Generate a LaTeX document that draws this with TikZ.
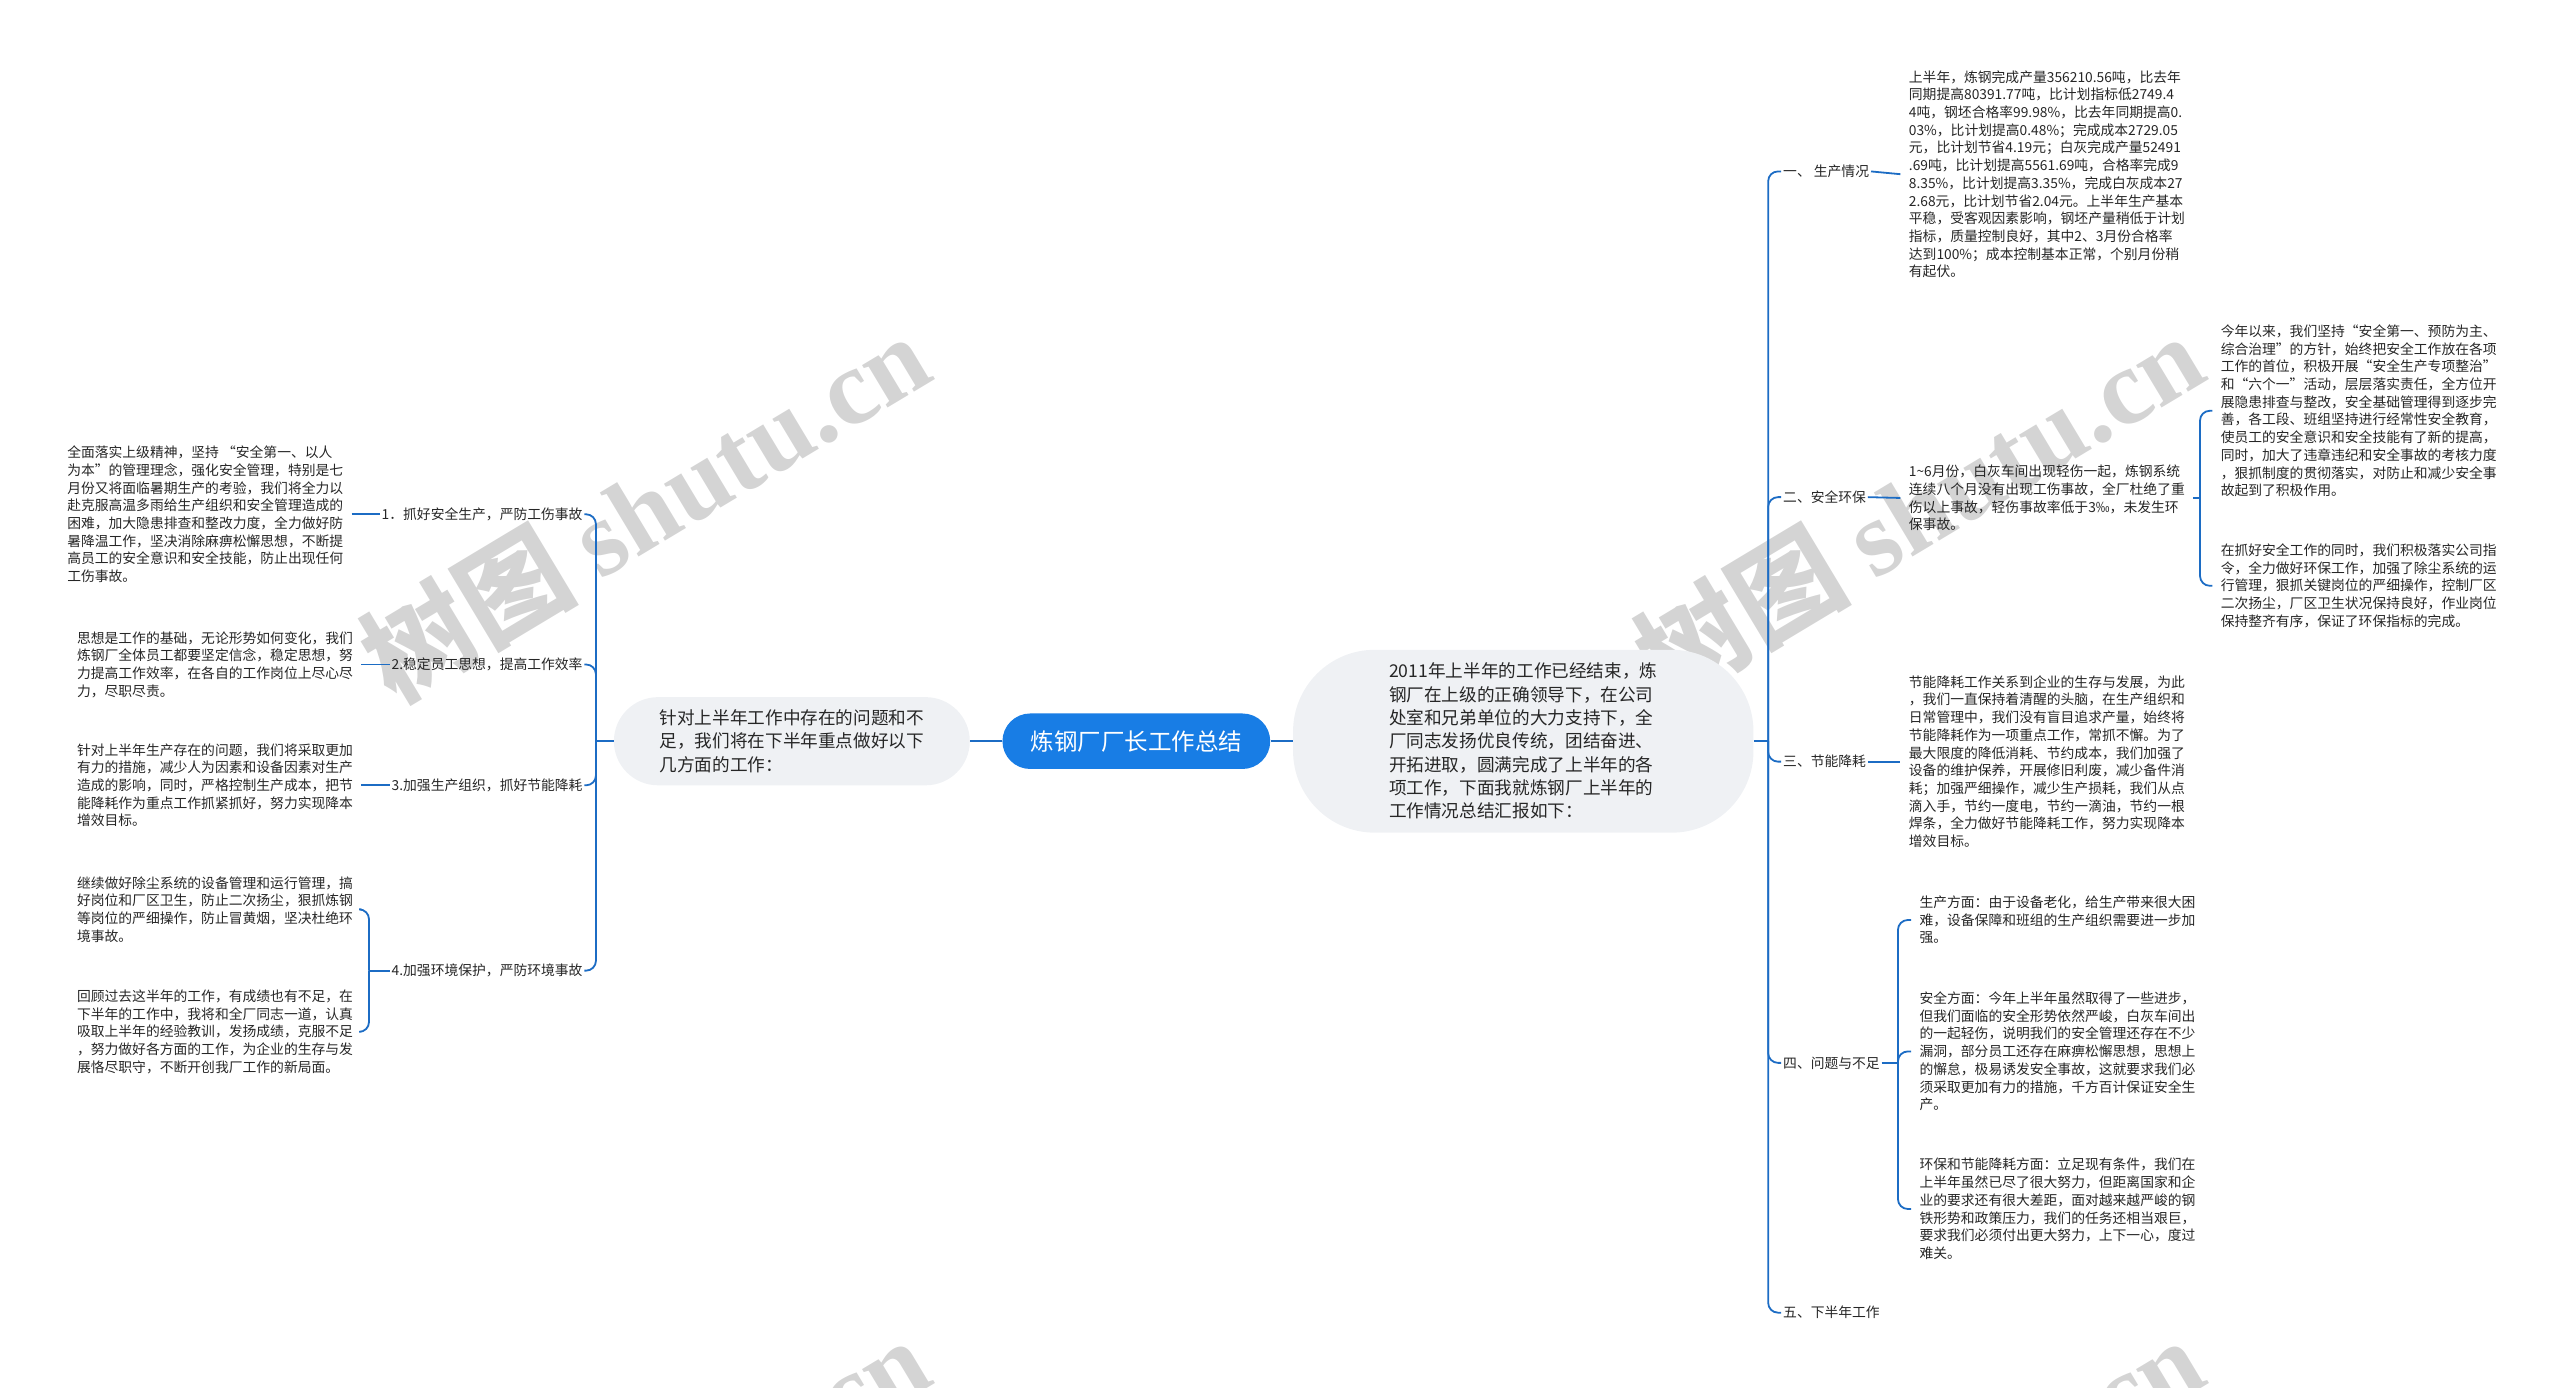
\documentclass[tikz,border=0pt]{standalone}
\usepackage{fontspec}
\setmainfont{Noto Sans CJK SC}
\newfontfamily\wmserif{Liberation Serif}
\usetikzlibrary{calc}
\definecolor{rootblue}{RGB}{24,125,229}
\definecolor{linkblue}{RGB}{28,108,196}
\definecolor{bubblegray}{RGB}{239,241,244}
\definecolor{txtc}{RGB}{38,38,38}
\definecolor{wmgray}{RGB}{212,212,212}
\begin{document}
\begin{tikzpicture}[x=1pt,y=-1pt,
  conn/.style={draw=linkblue, line width=1.1pt, rounded corners=6pt},
  txt/.style={font=\fontsize{8.45}{10.85}\selectfont, text=txtc, align=left, inner xsep=5pt, inner ysep=0pt},
  lbl/.style={font=\fontsize{8.45}{10.85}\selectfont, text=txtc, inner xsep=1pt, inner ysep=1pt},
  bubble/.style={fill=bubblegray, font=\fontsize{10.8}{14.3}\selectfont, text=txtc, align=left},
  rootbox/.style={fill=rootblue, rounded corners=17pt, text=white, font=\fontsize{14.4}{17}\selectfont, minimum width=164pt, minimum height=34pt},
  wm/.style={text=wmgray, font=\fontsize{66}{70}\selectfont\bfseries, rotate=31}
]
\useasboundingbox (0,0) rectangle (1568,850);
\begin{scope}
\clip (0,0) rectangle (1568,850);
\node[wm] (wm1) at (395,310) {树图 {\wmserif\bfseries shutu.cn}};
\node[wm] (wm2) at (1175,310) {树图 {\wmserif\bfseries shutu.cn}};
\node[wm] (wm3) at (395,925) {树图 {\wmserif\bfseries shutu.cn}};
\node[wm] (wm4) at (1175,925) {树图 {\wmserif\bfseries shutu.cn}};
\end{scope}

% centre
\node[rootbox] (root) at (696,454) {炼钢厂厂长工作总结};
\node[bubble, rounded corners=50pt, minimum width=282pt, minimum height=112pt] (intro) at (933,454) {2011年上半年的工作已经结束，炼\\钢厂在上级的正确领导下，在公司\\处室和兄弟单位的大力支持下，全\\厂同志发扬优良传统，团结奋进、\\开拓进取，圆满完成了上半年的各\\项工作，下面我就炼钢厂上半年的\\工作情况总结汇报如下：};
\node[bubble, rounded corners=27pt, minimum width=218pt, minimum height=54pt] (plan) at (485,454) {针对上半年工作中存在的问题和不\\足，我们将在下半年重点做好以下\\几方面的工作：};
\draw[conn] (plan.east) -- (root.west);
\draw[conn] (root.east) -- (intro.west);

% right side
\coordinate (rs) at (1083,454);
\node[lbl, anchor=west] (r1) at (1091,105) {一、 生产情况};
\node[lbl, anchor=west] (r2) at (1091,304.5) {二、安全环保};
\node[lbl, anchor=west] (r3) at (1091,466.5) {三、节能降耗};
\node[lbl, anchor=west] (r4) at (1091,651) {四、问题与不足};
\node[lbl, anchor=west] (r5) at (1091,804) {五、下半年工作};
\draw[conn] (intro.east) -- (rs);
\foreach \n in {r1,r2,r3,r4,r5} \draw[conn] (rs) |- (\n.west);

\node[txt, anchor=west] (t1) at (1164,106.7) {上半年，炼钢完成产量356210.56吨，比去年\\同期提高80391.77吨，比计划指标低2749.4\\4吨，钢坯合格率99.98\%，比去年同期提高0.\\03\%，比计划提高0.48\%；完成成本2729.05\\元，比计划节省4.19元；白灰完成产量52491\\.69吨，比计划提高5561.69吨，合格率完成9\\8.35\%，比计划提高3.35\%，完成白灰成本27\\2.68元，比计划节省2.04元。上半年生产基本\\平稳，受客观因素影响，钢坯产量稍低于计划\\指标，质量控制良好，其中2、3月份合格率\\达到100\%；成本控制基本正常，个别月份稍\\有起伏。};
\draw[conn] (r1.east) -- (t1.west);

\node[txt, anchor=west] (t2) at (1164,305) {1\textasciitilde 6月份，白灰车间出现轻伤一起，炼钢系统\\连续八个月没有出现工伤事故，全厂杜绝了重\\伤以上事故，轻伤事故率低于3‰，未发生环\\保事故。};
\draw[conn] (r2.east) -- (t2.west);
\coordinate (b2) at (1347.5,305);
\node[txt, anchor=west] (t2a) at (1355,251.6) {今年以来，我们坚持“安全第一、预防为主、\\综合治理”的方针，始终把安全工作放在各项\\工作的首位，积极开展“安全生产专项整治”\\和“六个一”活动，层层落实责任，全方位开\\展隐患排查与整改，安全基础管理得到逐步完\\善，各工段、班组坚持进行经常性安全教育，\\使员工的安全意识和安全技能有了新的提高，\\同时，加大了违章违纪和安全事故的考核力度\\，狠抓制度的贯彻落实，对防止和减少安全事\\故起到了积极作用。};
\node[txt, anchor=west] (t2b) at (1355,358.8) {在抓好安全工作的同时，我们积极落实公司指\\令，全力做好环保工作，加强了除尘系统的运\\行管理，狠抓关键岗位的严细操作，控制厂区\\二次扬尘，厂区卫生状况保持良好，作业岗位\\保持整齐有序，保证了环保指标的完成。};
\draw[conn] (t2.east) -- (b2);
\draw[conn] (b2) |- (t2a.west);
\draw[conn] (b2) |- (t2b.west);

\node[txt, anchor=west] (t3) at (1164,466.5) {节能降耗工作关系到企业的生存与发展，为此\\，我们一直保持着清醒的头脑，在生产组织和\\日常管理中，我们没有盲目追求产量，始终将\\节能降耗作为一项重点工作，常抓不懈。为了\\最大限度的降低消耗、节约成本，我们加强了\\设备的维护保养，开展修旧利废，减少备件消\\耗；加强严细操作，减少生产损耗，我们从点\\滴入手，节约一度电，节约一滴油，节约一根\\焊条，全力做好节能降耗工作，努力实现降本\\增效目标。};
\draw[conn] (r3.east) -- (t3.west);

\coordinate (b4) at (1162.5,651);
\node[txt, anchor=west] (t4a) at (1170.5,563.5) {生产方面：由于设备老化，给生产带来很大困\\难，设备保障和班组的生产组织需要进一步加\\强。};
\node[txt, anchor=west] (t4b) at (1170.5,644) {安全方面：今年上半年虽然取得了一些进步，\\但我们面临的安全形势依然严峻，白灰车间出\\的一起轻伤，说明我们的安全管理还存在不少\\漏洞，部分员工还存在麻痹松懈思想，思想上\\的懈怠，极易诱发安全事故，这就要求我们必\\须采取更加有力的措施，千方百计保证安全生\\产。};
\node[txt, anchor=west] (t4c) at (1170.5,740.5) {环保和节能降耗方面：立足现有条件，我们在\\上半年虽然已尽了很大努力，但距离国家和企\\业的要求还有很大差距，面对越来越严峻的钢\\铁形势和政策压力，我们的任务还相当艰巨，\\要求我们必须付出更大努力，上下一心，度过\\难关。};
\draw[conn] (r4.east) -- (b4);
\foreach \n in {t4a,t4b,t4c} \draw[conn] (b4) |- (\n.west);

% left side
\coordinate (ls) at (365,454);
\node[lbl, anchor=east] (l1) at (358,315) {1．抓好安全生产，严防工伤事故};
\node[lbl, anchor=east] (l2) at (358,407) {2.稳定员工思想，提高工作效率};
\node[lbl, anchor=east] (l3) at (358,481) {3.加强生产组织，抓好节能降耗};
\node[lbl, anchor=east] (l4) at (358,594.5) {4.加强环境保护，严防环境事故};
\draw[conn] (plan.west) -- (ls);
\foreach \n in {l1,l2,l3,l4} \draw[conn] (ls) |- (\n.east);

\node[txt, anchor=west] (lt1) at (36,315) {全面落实上级精神，坚持 “安全第一、以人\\为本”的管理理念，强化安全管理，特别是七\\月份又将面临暑期生产的考验，我们将全力以\\赴克服高温多雨给生产组织和安全管理造成的\\困难，加大隐患排查和整改力度，全力做好防\\暑降温工作，坚决消除麻痹松懈思想，不断提\\高员工的安全意识和安全技能，防止出现任何\\工伤事故。};
\draw[conn] (lt1.east) -- (l1.west);
\node[txt, anchor=west] (lt2) at (42,407) {思想是工作的基础，无论形势如何变化，我们\\炼钢厂全体员工都要坚定信念，稳定思想，努\\力提高工作效率，在各自的工作岗位上尽心尽\\力，尽职尽责。};
\draw[conn] (lt2.east) -- (l2.west);
\node[txt, anchor=west] (lt3) at (42,481) {针对上半年生产存在的问题，我们将采取更加\\有力的措施，减少人为因素和设备因素对生产\\造成的影响，同时，严格控制生产成本，把节\\能降耗作为重点工作抓紧抓好，努力实现降本\\增效目标。};
\draw[conn] (lt3.east) -- (l3.west);
\coordinate (lb4) at (226,594.5);
\node[txt, anchor=west] (lt4a) at (42,557) {继续做好除尘系统的设备管理和运行管理，搞\\好岗位和厂区卫生，防止二次扬尘，狠抓炼钢\\等岗位的严细操作，防止冒黄烟，坚决杜绝环\\境事故。};
\node[txt, anchor=west] (lt4b) at (42,632) {回顾过去这半年的工作，有成绩也有不足，在\\下半年的工作中，我将和全厂同志一道，认真\\吸取上半年的经验教训，发扬成绩，克服不足\\，努力做好各方面的工作，为企业的生存与发\\展恪尽职守，不断开创我厂工作的新局面。};
\draw[conn] (l4.west) -- (lb4);
\draw[conn] (lb4) |- (lt4a.east);
\draw[conn] (lb4) |- (lt4b.east);
\end{tikzpicture}
\end{document}
